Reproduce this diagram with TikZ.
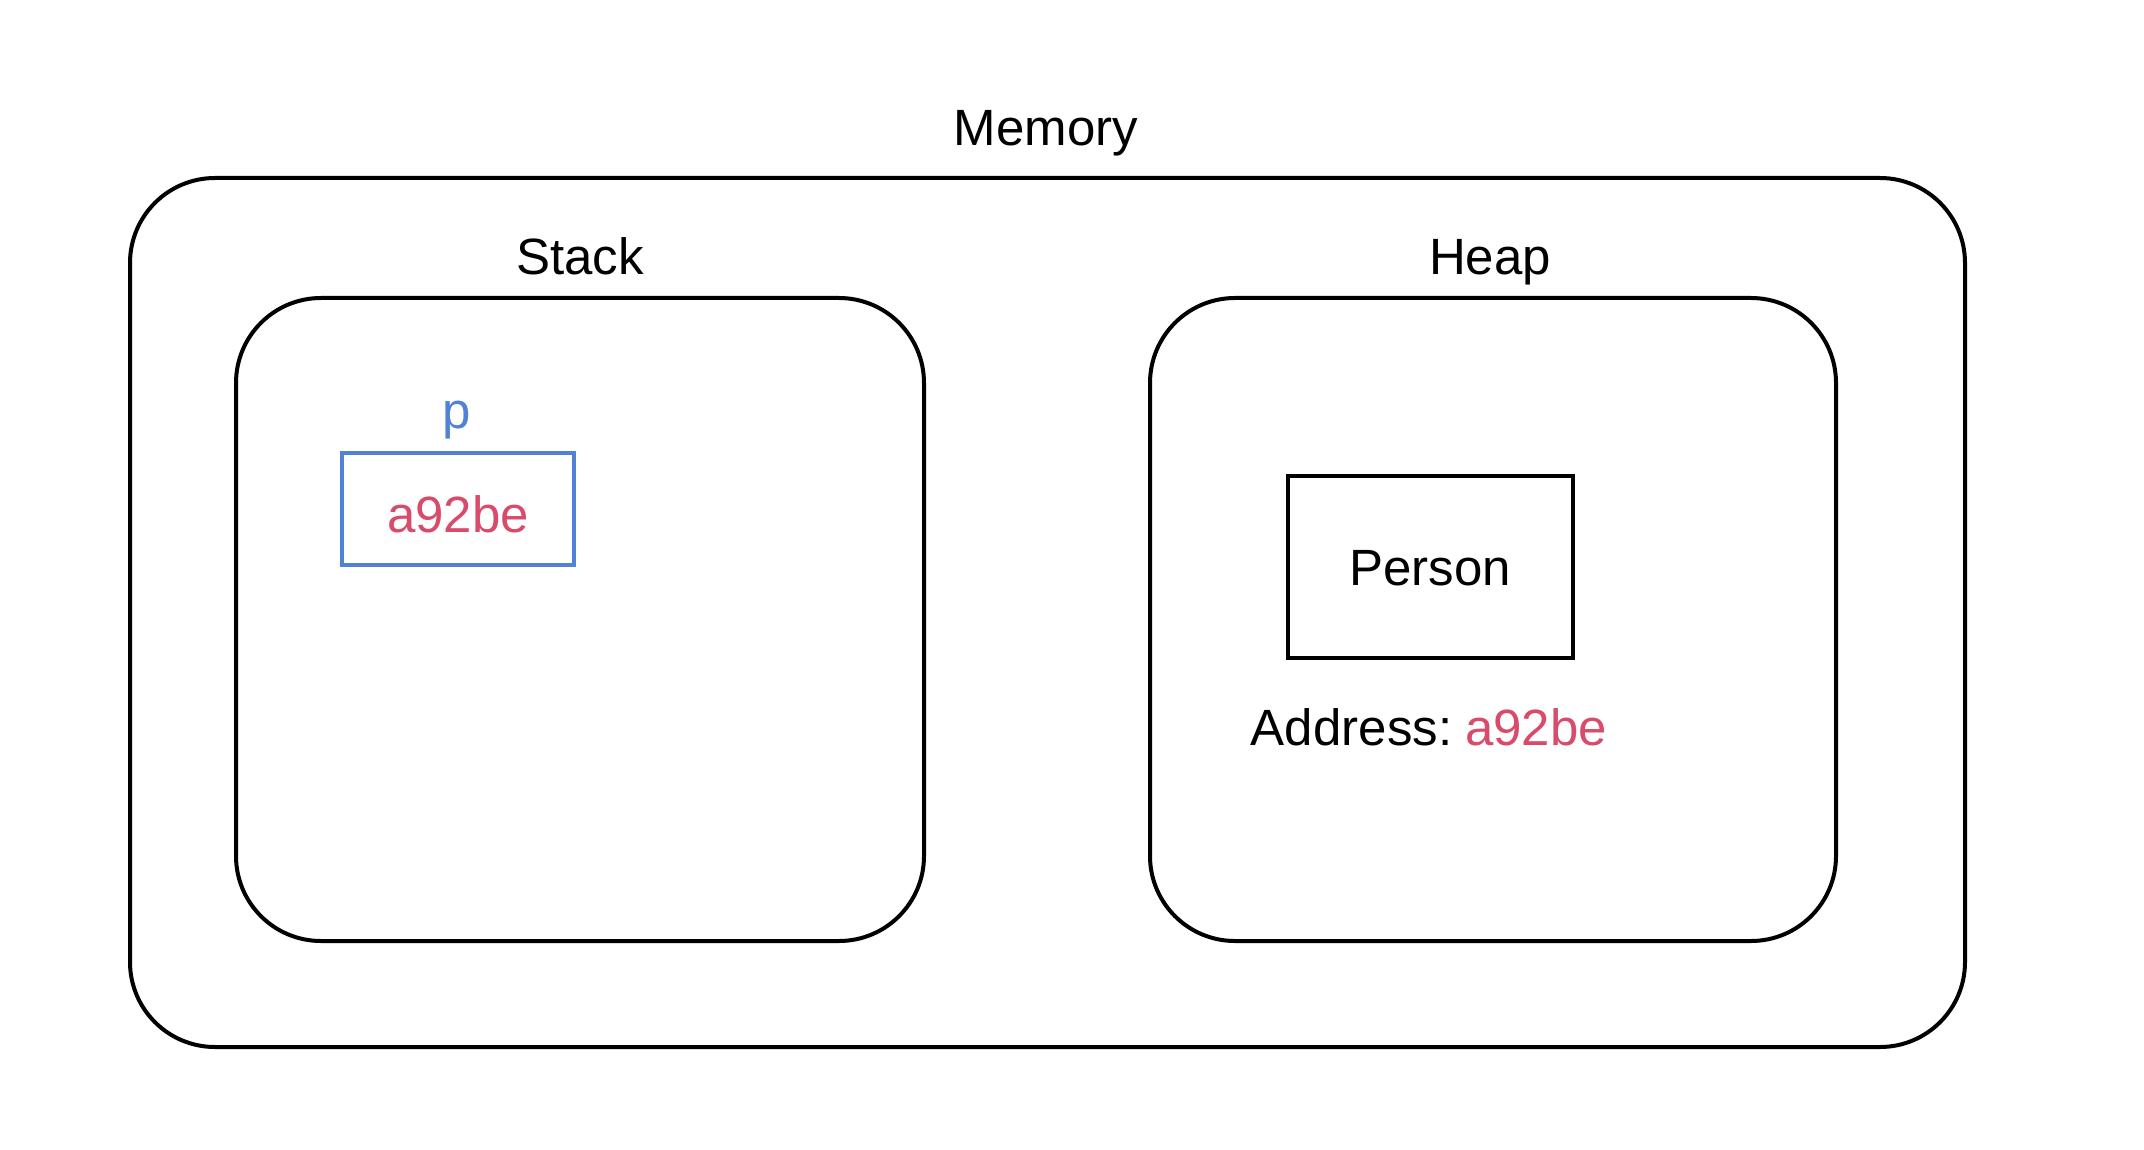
\documentclass[tikz,border=0pt]{standalone}
\usepackage{fontspec}
\setmainfont{Liberation Sans}
\definecolor{pblue}{HTML}{5282D8}
\definecolor{pred}{HTML}{D94B6B}
\begin{document}
\begin{tikzpicture}[x=1pt,y=-1pt,
  box/.style={draw=black,line width=4pt,rounded corners=85pt},
  lbl/.style={font=\fontsize{51}{60}\selectfont,inner sep=0pt,anchor=base}]
\useasboundingbox[fill=white] (0,0) rectangle (2144,1150);
\draw[box] (130,178) rectangle (1965,1047);
\draw[box] (236,298) rectangle (924,941);
\draw[box] (1150,298) rectangle (1836,941);
\node[lbl] (mem) at (1046,146) {Memory};
\node[lbl] (stack) at (580,275) {Stack};
\node[lbl] (heap) at (1490,275) {Heap};
\node[lbl,text=pblue] (p) at (457,428) {p};
\node[draw=pblue,line width=4pt,minimum width=232pt,minimum height=112pt,inner sep=0pt] (pv) at (458,509) {};
\node[lbl,text=pred] (pvt) at (458,532) {a92be};
\node[draw=black,line width=4pt,minimum width=285pt,minimum height=182pt,inner sep=0pt] (person) at (1430,567) {};
\node[lbl] (pt) at (1430,585) {Person};
\node[lbl] (addr) at (1429,745) {Address:\hspace{13pt}\textcolor{pred}{a92be}};
\end{tikzpicture}
\end{document}
